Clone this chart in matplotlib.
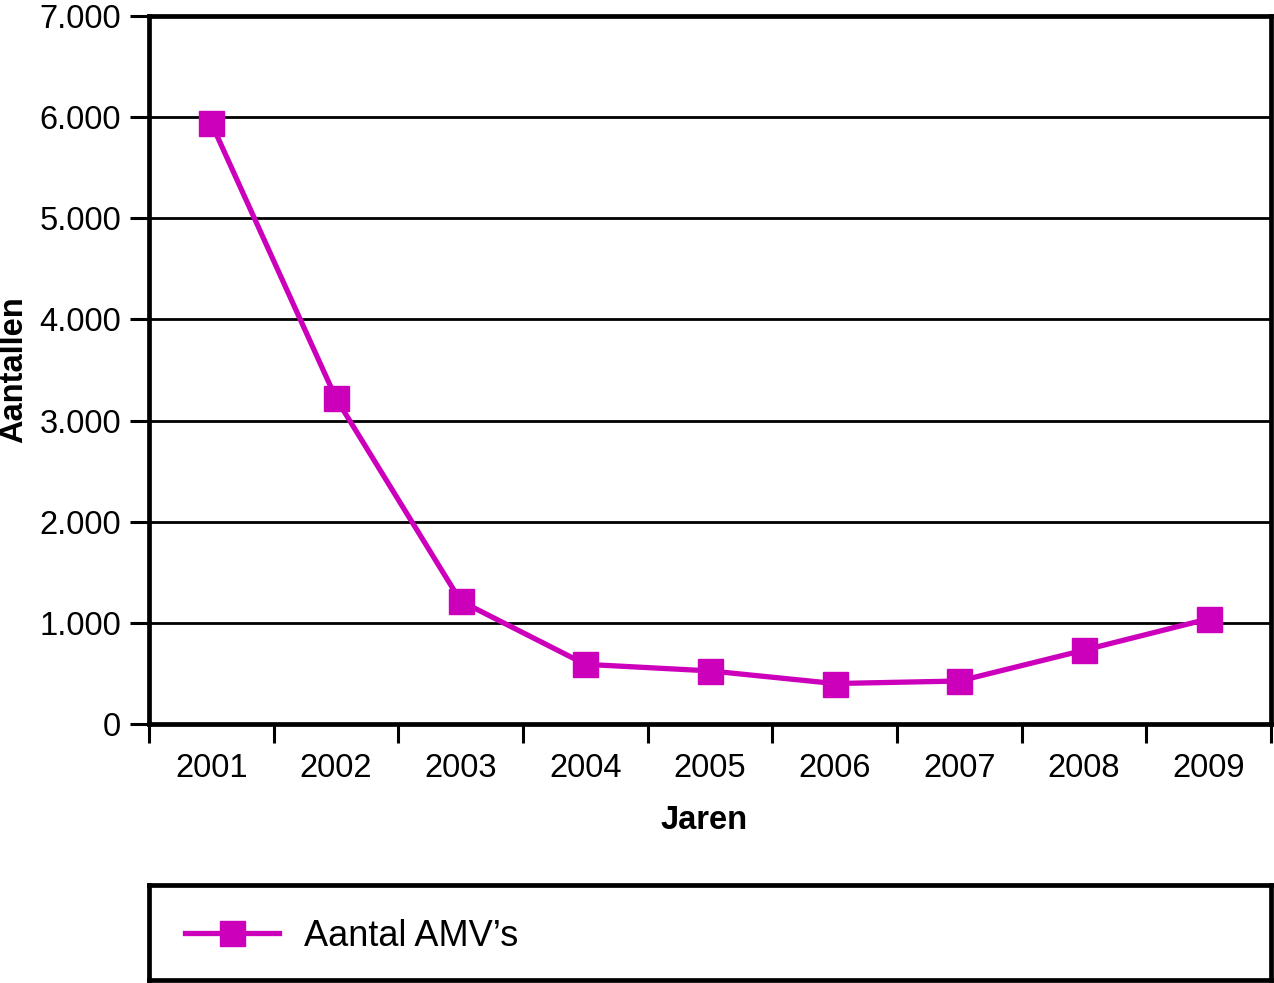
import matplotlib
matplotlib.use("Agg")
import matplotlib.pyplot as plt
from matplotlib.ticker import FuncFormatter, FixedLocator

plt.rcParams['font.family'] = ['Liberation Sans', 'DejaVu Sans']

years = ['2001', '2002', '2003', '2004', '2005', '2006', '2007', '2008', '2009']
amv = [5940, 3220, 1215, 590, 525, 400, 425, 730, 1040]
yticks = [0, 1000, 2000, 3000, 4000, 5000, 6000, 7000]

col = '#CC00BB'
fs = 23.5

fig = plt.figure(figsize=(12.74, 9.83), dpi=100)
ax = fig.add_axes([149/1274, 1 - 724/983, (1271-149)/1274, (724-16)/983])

x = list(range(len(years)))
line, = ax.plot(x, amv, color=col, lw=3.8, marker='s', markersize=18,
                label="Aantal AMV\u2019s", zorder=5, clip_on=False)

ax.set_xlim(-0.5, len(years) - 0.5)
ax.set_ylim(0, 7000)
ax.set_yticks(yticks)
ax.yaxis.set_major_formatter(FuncFormatter(lambda v, p: f"{int(v):,}".replace(",", ".")))
ax.grid(axis='y', color='black', lw=2)
ax.set_axisbelow(True)

ax.set_xticks(x)
ax.set_xticklabels(years)
ax.xaxis.set_minor_locator(FixedLocator([i - 0.5 for i in range(len(years) + 1)]))
ax.tick_params(axis='x', which='major', length=0, pad=21, labelsize=fs)
ax.tick_params(axis='x', which='minor', length=14, width=2.2, direction='out')
ax.tick_params(axis='y', length=14, width=2.2, pad=6, labelsize=fs)

for s in ax.spines.values():
    s.set_linewidth(3.4)

ax.set_ylabel('Aantallen', fontsize=fs, fontweight='bold')
ax.yaxis.set_label_coords(-0.107, 0.5)
ax.set_xlabel('Jaren', fontsize=fs, fontweight='bold')
ax.xaxis.set_label_coords(0.495, -0.115)

# legend box
lax = fig.add_axes([149/1274, 1 - 980/983, (1271-149)/1274, (980-885)/983])
lax.set_xticks([])
lax.set_yticks([])
for s in lax.spines.values():
    s.set_linewidth(3.4)
lax.legend(handles=[line], loc='center left', frameon=False, fontsize=26,
           handlelength=2.6, handletextpad=0.7, borderaxespad=0.6,
           markerscale=1.0, bbox_to_anchor=(0, 0.46))

fig.savefig('out.png', dpi=100)
